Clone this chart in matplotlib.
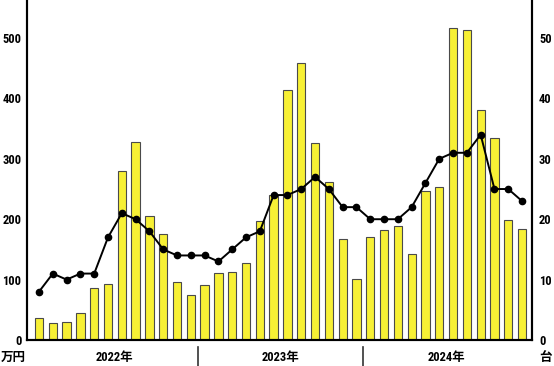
import matplotlib.pyplot as plt
import numpy as np
from matplotlib import font_manager

# monthly values, Jan 2022 - Dec 2024
amount = [36, 28, 29, 45, 86, 93, 280, 328, 205, 175, 96, 75,
          91, 111, 113, 127, 197, 240, 414, 459, 327, 262, 168, 101,
          170, 182, 188, 142, 246, 254, 517, 514, 381, 334, 199, 184]
units = [8, 11, 10, 11, 11, 17, 21, 20, 18, 15, 14, 14,
         14, 13, 15, 17, 18, 24, 24, 25, 27, 25, 22, 22,
         20, 20, 20, 22, 26, 30, 31, 31, 34, 25, 25, 23]
years = ['2022年', '2023年', '2024年']
left_ticks = [0, 100, 200, 300, 400, 500]
right_ticks = [0, 10, 20, 30, 40, 50]

names = {f.name for f in font_manager.fontManager.ttflist}
narrow = 'DejaVu Sans'
for cand in ['Roboto Condensed', 'Liberation Sans Narrow', 'Open Sans Condensed']:
    if cand in names:
        narrow = cand
        break
fam = [narrow, 'Noto Sans CJK JP', 'DejaVu Sans']
plt.rcParams['font.family'] = fam
plt.rcParams['font.stretch'] = 'condensed'

fig = plt.figure(figsize=(5.54, 3.66), dpi=100)
ax = fig.add_axes([27/554, 26/366, (532-27)/554, 340/366])
x = np.arange(len(amount))

ax.bar(x, amount, width=0.6, color='#f7f035', edgecolor='#4a4a4a', linewidth=0.8, zorder=2)
ax.set_xlim(-0.87, len(amount) - 1 + 0.72)
ax.set_ylim(0, 563)
ax.set_yticks(left_ticks)
ax.set_xticks([])
ax.tick_params(axis='y', length=0, pad=4, labelsize=9)
for t in ax.get_yticklabels():
    t.set_fontweight('bold')

ax2 = ax.twinx()
ax2.plot(x, units, color='black', lw=1.4, marker='o', markersize=4.5, zorder=3)
ax2.set_ylim(0, 56.3)
ax2.set_yticks(right_ticks)
ax2.tick_params(axis='y', length=0, pad=5, labelsize=9)
for t in ax2.get_yticklabels():
    t.set_fontweight('bold')

for a in (ax, ax2):
    a.spines['top'].set_visible(False)
    a.spines['left'].set_linewidth(1.5)
    a.spines['right'].set_linewidth(1.5)
    a.spines['bottom'].set_linewidth(1.5)

# year separators and labels below the axis
for sep in [11.5, 23.5]:
    ax.plot([sep, sep], [-0.02, -0.08], transform=ax.get_xaxis_transform(),
            color='#333333', lw=1.2, clip_on=False)
for i, yr in enumerate(years):
    ax.text(5.5 + 12 * i, -0.05, yr, transform=ax.get_xaxis_transform(),
            ha='center', va='center', fontsize=9, fontweight='bold')

fig.text(13/554, 1 - 357/366, '万円', ha='center', va='center', fontsize=9, fontweight='bold')
fig.text(545/554, 1 - 357/366, '台', ha='center', va='center', fontsize=9, fontweight='bold')

fig.savefig('out.png', dpi=100)
